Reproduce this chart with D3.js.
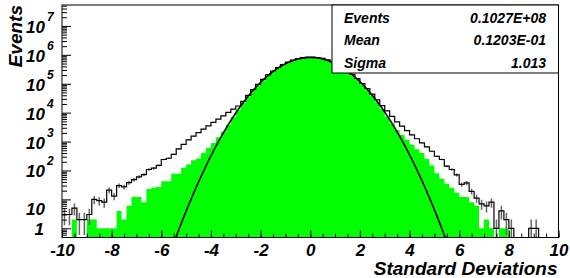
<!DOCTYPE html>
<html>
<head>
<meta charset="utf-8">
<script src="https://cdn.jsdelivr.net/npm/d3@7"></script>
<style>
  html, body { margin: 0; padding: 0; background: #fff; }
  svg { display: block; }
  text { font-family: "Liberation Sans", Arial, Helvetica, sans-serif; font-weight: bold; font-style: italic; fill: #000; }
</style>
</head>
<body>
<div id="chart"></div>
<script>
// histogram binning
const xMin = -10, xMax = 10, nBins = 100;

// all events (black outline, with errors)
const allCounts = [
  3, 3, 5, 2, 2, 3, 10, 9, 8, 21,
  13, 30, 27, 38, 48, 60, 72, 108, 120, 150,
  240, 265, 360, 560, 800, 1150, 1550, 2050, 2700, 3500,
  4600, 6000, 7800, 10200, 13300, 17000, 24500, 39500, 62500, 95800,
  141500, 201500, 276000, 363500, 460500, 561000, 657000, 740500, 802000, 836000,
  838000, 808000, 749000, 668000, 573000, 472500, 375000, 286000, 210000, 150000,
  102000, 67500, 43500, 27500, 17500, 11500, 7400, 4800, 3400, 2400,
  1700, 1250, 900, 655, 463, 310, 240, 141, 108, 70,
  33, 37, 19, 11, 7, 6, 8, 1, 4, 2,
  1, 0, 0, 0, 1, 1, 0, 0, 0, 0
];

// selected events (green filled)
const selCounts = [
  0, 0, 2, 0, 0, 2, 2, 1, 1, 1,
  1, 4, 2, 6, 12, 12, 8, 23, 26, 27,
  42, 42, 77, 77, 123, 160, 226, 260, 400, 600,
  900, 1400, 2200, 3800, 7000, 12600, 21800, 36300, 58000, 89200,
  132000, 188000, 258000, 339000, 430000, 523000, 613000, 691000, 748000, 780000,
  782000, 754000, 699000, 623000, 534000, 441000, 350000, 267000, 196000, 138000,
  93700, 61200, 38400, 23200, 13000, 7400, 4300, 2500, 1700, 1150,
  780, 540, 400, 250, 150, 80, 52, 35, 25, 17,
  12, 12, 8, 6, 1, 2, 1, 0, 1, 1,
  0, 0, 0, 0, 0, 0, 0, 0, 0, 0
];

// gaussian fit
const fitConst = 8.09e5, fitMean = 0.012, fitSigma = 1.013;

const xTickValues = [-10, -8, -6, -4, -2, 0, 2, 4, 6, 8, 10];
const xTickLabels = ["-10", "-8", "-6", "-4", "-2", "0", "2", "4", "6", "8", "10"];
const yDecades = [0, 1, 2, 3, 4, 5, 6, 7];
const statNames = ["Events", "Mean", "Sigma"];
const statValues = ["0.1027E+08", "0.1203E-01", "1.013"];

const width = 570, height = 278;
const frame = { left: 62, right: 558.5, top: 5, bottom: 237.5 };
const yMin = 0.48, yMax = 5.3e7;
const binW = (xMax - xMin) / nBins;

const svg = d3.select("#chart").append("svg")
  .attr("width", width)
  .attr("height", height);

const x = d3.scaleLinear().domain([xMin, xMax]).range([frame.left, frame.right]);
const y = d3.scaleLog().domain([yMin, yMax]).range([frame.bottom, frame.top]);
const yPos = v => v > yMin ? y(Math.min(v, yMax)) : frame.bottom;

svg.append("clipPath").attr("id", "clip")
  .append("rect")
  .attr("x", frame.left).attr("y", frame.top)
  .attr("width", frame.right - frame.left)
  .attr("height", frame.bottom - frame.top);

const plot = svg.append("g").attr("clip-path", "url(#clip)");

const edges = d3.range(nBins + 1).map(i => xMin + i * binW);
const stepPts = counts => edges.map((e, i) => ({ x: e, v: counts[Math.min(i, nBins - 1)] }));

// green filled histogram
plot.append("path")
  .datum(stepPts(selCounts))
  .attr("d", d3.area()
    .x(d => x(d.x))
    .y0(frame.bottom)
    .y1(d => yPos(d.v))
    .curve(d3.curveStepAfter))
  .attr("fill", "#00ff00");

// error bars
plot.append("g")
  .selectAll("line")
  .data(allCounts.map((c, i) => ({ c, xc: xMin + (i + 0.5) * binW })).filter(d => d.c > 0))
  .enter()
  .append("line")
  .attr("x1", d => x(d.xc))
  .attr("x2", d => x(d.xc))
  .attr("y1", d => yPos(d.c - Math.sqrt(d.c)))
  .attr("y2", d => yPos(d.c + Math.sqrt(d.c)))
  .attr("stroke", "#666")
  .attr("stroke-width", 1.5);

// black outline histogram
plot.append("path")
  .datum(stepPts(allCounts))
  .attr("d", d3.line()
    .x(d => x(d.x))
    .y(d => yPos(d.v))
    .curve(d3.curveStepAfter))
  .attr("fill", "none")
  .attr("stroke", "#000")
  .attr("stroke-width", 1.2);

// fitted gaussian
const gauss = t => fitConst * Math.exp(-((t - fitMean) ** 2) / (2 * fitSigma * fitSigma));
plot.append("path")
  .datum(d3.range(-6, 6.001, 0.02).filter(t => gauss(t) > yMin * 0.9))
  .attr("d", d3.line().x(t => x(t)).y(t => y(Math.max(gauss(t), yMin * 0.9))))
  .attr("fill", "none")
  .attr("stroke", "#000")
  .attr("stroke-width", 1.6);

// x axis ticks (inside)
const xMinor = d3.range(xMin, xMax + 0.001, 0.5);
svg.append("g")
  .attr("transform", `translate(0,${frame.bottom})`)
  .call(d3.axisBottom(x).tickValues(xMinor).tickSize(-4).tickSizeOuter(0).tickFormat(""))
  .call(g => g.select(".domain").remove());
const xAxis = svg.append("g")
  .attr("transform", `translate(0,${frame.bottom})`)
  .call(d3.axisBottom(x).tickValues(xTickValues).tickSize(-7).tickSizeOuter(0)
    .tickPadding(6).tickFormat((d, i) => xTickLabels[i]));
xAxis.select(".domain").remove();
xAxis.selectAll("line").attr("stroke", "#000");
xAxis.selectAll("text")
  .style("font-size", "17px")
  .style("font-family", "'Liberation Sans', Arial, sans-serif")
  .style("font-weight", "bold")
  .style("font-style", "italic");

// y axis ticks (inside)
const yMinorVals = [];
[-1, 0, 1, 2, 3, 4, 5, 6, 7].forEach(n => {
  for (let k = 2; k <= 9; k++) {
    const v = k * Math.pow(10, n);
    if (v >= yMin && v <= yMax) yMinorVals.push(v);
  }
});
svg.append("g")
  .attr("transform", `translate(${frame.left},0)`)
  .call(d3.axisLeft(y).tickValues(yMinorVals).tickSize(-5).tickSizeOuter(0).tickFormat(""))
  .call(g => g.select(".domain").remove());
svg.append("g")
  .attr("transform", `translate(${frame.left},0)`)
  .call(d3.axisLeft(y).tickValues(yDecades.map(n => Math.pow(10, n))).tickSize(-9).tickSizeOuter(0).tickFormat(""))
  .call(g => g.select(".domain").remove());

// y tick labels, 10 with exponent
const yLab = svg.append("g");
yDecades.forEach(n => {
  const ty = y(Math.pow(10, n));
  if (n === 0) {
    yLab.append("text").attr("x", 44).attr("y", ty + 6.5)
      .attr("text-anchor", "end").style("font-size", "17px").text("1");
  } else if (n === 1) {
    yLab.append("text").attr("x", 45).attr("y", ty + 15.5)
      .attr("text-anchor", "end").style("font-size", "17px").text("10");
  } else {
    yLab.append("text").attr("x", 45).attr("y", ty + 7)
      .attr("text-anchor", "end").style("font-size", "17px").text("10");
    yLab.append("text").attr("x", 47).attr("y", ty - 5)
      .attr("text-anchor", "start").style("font-size", "12px").text(n);
  }
});

// frame
svg.append("rect")
  .attr("x", frame.left).attr("y", frame.top)
  .attr("width", frame.right - frame.left)
  .attr("height", frame.bottom - frame.top)
  .attr("fill", "none")
  .attr("stroke", "#000")
  .attr("stroke-width", 1);

// axis titles
svg.append("text")
  .attr("x", frame.right - 1).attr("y", 275)
  .attr("text-anchor", "end")
  .style("font-size", "19px")
  .text("Standard Deviations");

svg.append("text")
  .attr("transform", `translate(22,${frame.top}) rotate(-90)`)
  .attr("text-anchor", "end")
  .style("font-size", "19px")
  .text("Events");

// stats box
const box = { left: 332, top: frame.top, right: frame.right, bottom: 73 };
svg.append("rect")
  .attr("x", box.left).attr("y", box.top)
  .attr("width", box.right - box.left)
  .attr("height", box.bottom - box.top)
  .attr("fill", "#fff")
  .attr("stroke", "#000")
  .attr("stroke-width", 1);

const rowY = [22.5, 45, 67.5];
statNames.forEach((name, i) => {
  svg.append("text").attr("x", 344).attr("y", rowY[i])
    .style("font-size", "14px").text(name);
  svg.append("text").attr("x", 546).attr("y", rowY[i])
    .attr("text-anchor", "end").style("font-size", "14px").text(statValues[i]);
});
</script>
</body>
</html>
